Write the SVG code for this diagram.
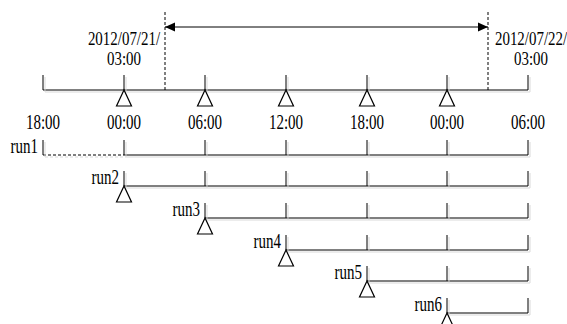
<svg xmlns="http://www.w3.org/2000/svg" width="567" height="324" viewBox="0 0 567 324">
<defs>
<style>
.ln{stroke:#000;stroke-width:1;fill:none}
.ds{stroke:#000;stroke-width:1;fill:none;stroke-dasharray:3,2}
.tri{stroke:#000;stroke-width:1.2;fill:#fff}
.t{font-family:"Liberation Serif","Times New Roman",serif;font-size:20px;fill:#000}
.d{font-size:18px}
.m{text-anchor:middle}
.e{text-anchor:end}
</style>
<filter id="sh" x="-5%" y="-5%" width="110%" height="115%">
<feOffset in="SourceAlpha" dx="2" dy="2" result="o"/>
<feFlood flood-color="#d9d9d9"/>
<feComposite in2="o" operator="in" result="s"/>
<feMerge><feMergeNode in="s"/><feMergeNode in="SourceGraphic"/></feMerge>
</filter>
<marker id="ah" markerWidth="10" markerHeight="10" refX="10" refY="5" orient="auto-start-reverse" markerUnits="userSpaceOnUse">
<path d="M0,0.5 L10,5 L0,9.5 Z" fill="#000"/>
</marker>
</defs>
<g id="connectors" filter="url(#sh)">
<!-- main axis -->
<path class="ln" d="M43,75 V90 H528 V75 M124,75 V90 M205,75 V90 M286,75 V90 M367,75 V90 M447,75 V90"/>
<!-- run1 -->
<path class="ln" d="M43,140 V155"/>
<path class="ds" d="M43,155 H124"/>
<path class="ln" d="M124,140 V155 H528 V140 M205,140 V155 M286,140 V155 M367,140 V155 M447,140 V155"/>
<!-- run2 -->
<path class="ln" d="M124,171 V186 H528 V171 M205,171 V186 M286,171 V186 M367,171 V186 M447,171 V186"/>
<!-- run3 -->
<path class="ln" d="M205,203 V218 H528 V203 M286,203 V218 M367,203 V218 M447,203 V218"/>
<!-- run4 -->
<path class="ln" d="M286,235 V250 H528 V235 M367,235 V250 M447,235 V250"/>
<!-- run5 -->
<path class="ln" d="M367,266 V281 H528 V266 M447,266 V281"/>
<!-- run6 -->
<path class="ln" d="M447,298 V313 H528 V298"/>
</g>
<g id="range">
<path class="ds" d="M165,12 V90 M488,12 V90"/>
<path class="ln" d="M165,27 H488" marker-start="url(#ah)" marker-end="url(#ah)"/>
</g>
<g id="triangles">
<path class="tri" d="M124,90 L116.5,106 H131.5 Z"/>
<path class="tri" d="M205,90 L197.5,106 H212.5 Z"/>
<path class="tri" d="M286,90 L278.5,106 H293.5 Z"/>
<path class="tri" d="M367,90 L359.5,106 H374.5 Z"/>
<path class="tri" d="M447,90 L439.5,106 H454.5 Z"/>
<path class="tri" d="M124,186 L116.5,202 H131.5 Z"/>
<path class="tri" d="M205,218 L197.5,234 H212.5 Z"/>
<path class="tri" d="M286,250 L278.5,266 H293.5 Z"/>
<path class="tri" d="M367,281 L359.5,297 H374.5 Z"/>
<path class="tri" d="M447,313 L439.5,329 H454.5 Z"/>
</g>
<g id="dates" transform="scale(0.83 1)">
<text class="t d m" x="149.4" y="45">2012/07/21/</text>
<text class="t d m" x="149.4" y="65">03:00</text>
<text class="t d m" x="639.8" y="45">2012/07/22/</text>
<text class="t d m" x="639.8" y="65">03:00</text>
</g>
<g id="labels" transform="scale(0.75 1)">
<text class="t m" x="57.3" y="129">18:00</text>
<text class="t m" x="165.3" y="129">00:00</text>
<text class="t m" x="273.3" y="129">06:00</text>
<text class="t m" x="381.3" y="129">12:00</text>
<text class="t m" x="489.3" y="129">18:00</text>
<text class="t m" x="596" y="129">00:00</text>
<text class="t m" x="704" y="129">06:00</text>
<text class="t e" x="50.7" y="153">run1</text>
<text class="t e" x="158.7" y="184">run2</text>
<text class="t e" x="266.7" y="216">run3</text>
<text class="t e" x="374.7" y="248">run4</text>
<text class="t e" x="482.7" y="279">run5</text>
<text class="t e" x="589.3" y="311">run6</text>
</g>
</svg>
